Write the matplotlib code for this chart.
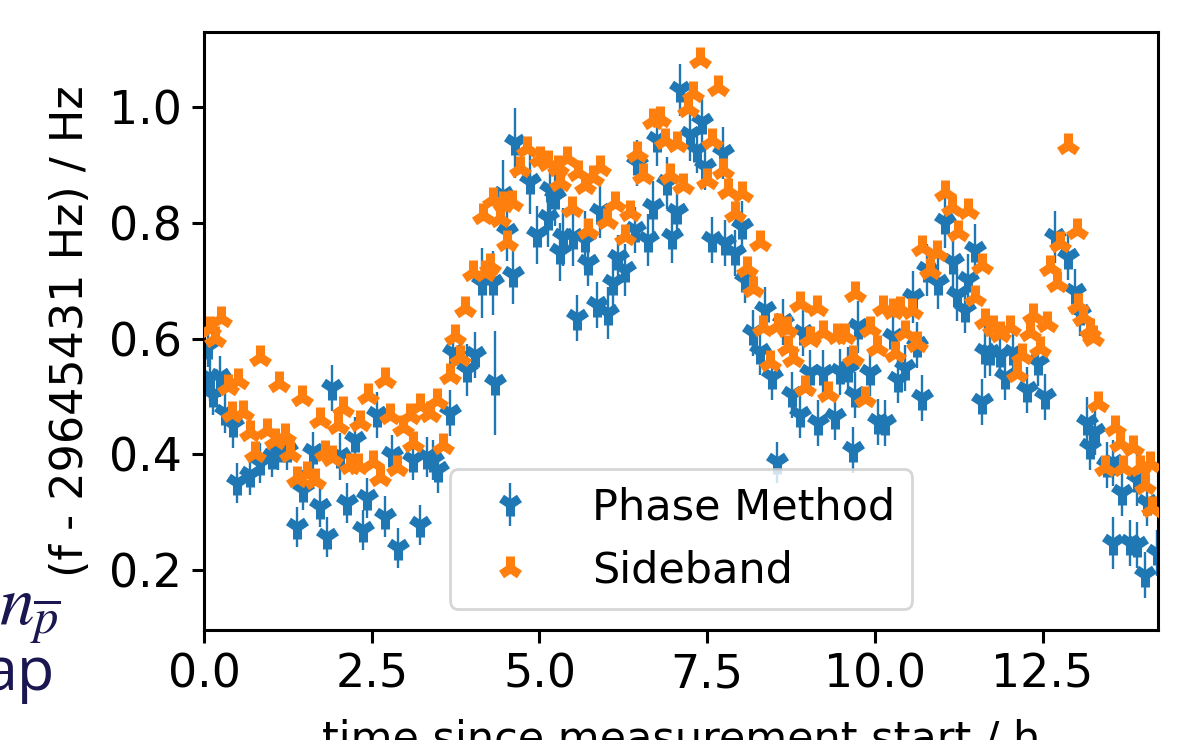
import matplotlib
matplotlib.use("Agg")
import matplotlib.pyplot as plt
import numpy as np

# ---------------- data ----------------
side_t = [0.089, 0.164, 0.253, 0.358, 0.417, 0.507, 0.581, 0.686, 0.760, 0.835,
          0.939, 1.058, 1.118, 1.207, 1.282, 1.386, 1.461, 1.535, 1.654, 1.729,
          1.803, 1.908, 1.997, 2.072, 2.176, 2.295, 2.325, 2.444, 2.519, 2.623,
          2.697, 2.772, 2.876, 2.966, 3.070, 3.115, 3.219, 3.368, 3.472, 3.562,
          3.666, 3.741, 3.815, 3.890, 4.009, 4.163, 4.193, 4.268, 4.312, 4.417,
          4.462, 4.521, 4.596, 4.715, 4.820, 5.014, 5.133, 5.283, 5.300, 5.417,
          5.492, 5.581, 5.685, 5.730, 5.805, 5.909, 6.006, 6.125, 6.274, 6.349,
          6.453, 6.543, 6.691, 6.796, 6.870, 6.945, 7.049, 7.139, 7.213, 7.288,
          7.392, 7.497, 7.571, 7.660, 7.735, 7.809, 7.913, 8.018, 8.092, 8.181,
          8.286, 8.331, 8.435, 8.554, 8.688, 8.703, 8.778, 8.882, 8.957, 9.032,
          9.136, 9.225, 9.299, 9.433, 9.553, 9.672, 9.702, 9.851, 9.925, 10.029,
          10.119, 10.268, 10.300, 10.373, 10.447, 10.551, 10.626, 10.700, 10.820, 10.924,
          11.043, 11.148, 11.237, 11.386, 11.490, 11.594, 11.639, 11.758, 11.863, 12.012,
          12.116, 12.191, 12.310, 12.355, 12.459, 12.563, 12.608, 12.712, 12.757, 12.876,
          13.010, 13.025, 13.100, 13.204, 13.249, 13.323, 13.428, 13.577, 13.651, 13.696,
          13.845, 13.949, 14.024, 14.098, 14.128]
side_f = [0.618, 0.601, 0.635, 0.518, 0.471, 0.528, 0.473, 0.438, 0.402, 0.568,
          0.442, 0.425, 0.523, 0.433, 0.402, 0.359, 0.499, 0.368, 0.356, 0.461,
          0.404, 0.395, 0.450, 0.480, 0.381, 0.381, 0.456, 0.502, 0.387, 0.361,
          0.530, 0.468, 0.377, 0.447, 0.468, 0.419, 0.485, 0.471, 0.494, 0.416,
          0.537, 0.604, 0.568, 0.653, 0.715, 0.813, 0.715, 0.727, 0.842, 0.808,
          0.834, 0.767, 0.836, 0.894, 0.930, 0.912, 0.905, 0.896, 0.870, 0.912,
          0.825, 0.888, 0.865, 0.788, 0.879, 0.896, 0.805, 0.834, 0.778, 0.818,
          0.920, 0.882, 0.978, 0.981, 0.943, 0.882, 0.938, 0.865, 0.998, 1.024,
          1.084, 0.874, 0.943, 1.035, 0.891, 0.857, 0.817, 0.852, 0.722, 0.688,
          0.767, 0.620, 0.560, 0.623, 0.618, 0.585, 0.566, 0.661, 0.516, 0.601,
          0.654, 0.611, 0.506, 0.606, 0.606, 0.568, 0.678, 0.497, 0.618, 0.585,
          0.654, 0.649, 0.575, 0.652, 0.611, 0.649, 0.592, 0.758, 0.718, 0.749,
          0.853, 0.827, 0.784, 0.822, 0.672, 0.727, 0.632, 0.620, 0.610, 0.620,
          0.540, 0.571, 0.611, 0.641, 0.584, 0.627, 0.724, 0.696, 0.765, 0.934,
          0.788, 0.658, 0.637, 0.615, 0.603, 0.488, 0.378, 0.447, 0.419, 0.377,
          0.413, 0.378, 0.347, 0.385, 0.307]

phase_t = [0.060, 0.089, 0.134, 0.238, 0.313, 0.432, 0.492, 0.686, 0.835, 1.013,
           1.103, 1.237, 1.386, 1.475, 1.625, 1.729, 1.833, 1.908, 2.027, 2.130,
           2.250, 2.370, 2.429, 2.578, 2.697, 2.802, 2.891, 3.115, 3.219, 3.323,
           3.413, 3.487, 3.666, 3.711, 3.919, 4.039, 4.143, 4.307, 4.337, 4.456,
           4.516, 4.605, 4.635, 4.858, 4.963, 5.127, 5.157, 5.231, 5.306, 5.350,
           5.499, 5.559, 5.678, 5.723, 5.857, 5.902, 6.021, 6.095, 6.170, 6.274,
           6.423, 6.453, 6.617, 6.691, 6.751, 6.900, 6.975, 7.049, 7.094, 7.243,
           7.348, 7.422, 7.467, 7.571, 7.735, 7.764, 7.913, 8.018, 8.063, 8.181,
           8.286, 8.361, 8.465, 8.539, 8.629, 8.763, 8.882, 8.927, 9.032, 9.150,
           9.225, 9.404, 9.478, 9.598, 9.672, 9.700, 9.747, 9.925, 10.045, 10.149,
           10.268, 10.343, 10.447, 10.566, 10.626, 10.700, 10.775, 10.939, 11.043, 11.162,
           11.222, 11.341, 11.386, 11.490, 11.594, 11.639, 11.714, 11.863, 11.937, 12.056,
           12.265, 12.429, 12.533, 12.683, 12.876, 12.980, 13.055, 13.159, 13.204, 13.278,
           13.457, 13.547, 13.547, 13.681, 13.800, 13.905, 13.905, 14.024, 14.053, 14.202]
phase_f = [0.586, 0.532, 0.503, 0.534, 0.471, 0.451, 0.350, 0.364, 0.385, 0.395,
           0.407, 0.407, 0.274, 0.338, 0.404, 0.309, 0.257, 0.515, 0.396, 0.316,
           0.425, 0.269, 0.324, 0.468, 0.292, 0.398, 0.238, 0.390, 0.278, 0.395,
           0.390, 0.373, 0.471, 0.575, 0.546, 0.571, 0.696, 0.696, 0.523, 0.848,
           0.784, 0.710, 0.938, 0.870, 0.779, 0.808, 0.857, 0.845, 0.750, 0.775,
           0.775, 0.635, 0.770, 0.730, 0.658, 0.818, 0.644, 0.696, 0.739, 0.718,
           0.788, 0.903, 0.770, 0.827, 0.943, 0.869, 0.775, 0.818, 1.029, 0.952,
           0.926, 0.974, 0.896, 0.770, 0.921, 0.765, 0.748, 0.792, 0.701, 0.609,
           0.577, 0.649, 0.533, 0.386, 0.628, 0.502, 0.468, 0.609, 0.540, 0.454,
           0.540, 0.464, 0.542, 0.545, 0.407, 0.502, 0.620, 0.540, 0.456, 0.454,
           0.603, 0.528, 0.549, 0.672, 0.589, 0.497, 0.718, 0.696, 0.801, 0.732,
           0.675, 0.649, 0.701, 0.753, 0.490, 0.577, 0.575, 0.571, 0.533, 0.575,
           0.511, 0.558, 0.499, 0.775, 0.741, 0.680, 0.644, 0.454, 0.413, 0.439,
           0.381, 0.385, 0.246, 0.333, 0.246, 0.355, 0.243, 0.191, 0.316, 0.229]
phase_err = [0.035, 0.040, 0.035, 0.035, 0.035, 0.040, 0.035, 0.035, 0.035, 0.035,
             0.035, 0.035, 0.035, 0.035, 0.035, 0.035, 0.035, 0.040, 0.040, 0.035,
             0.040, 0.035, 0.035, 0.040, 0.035, 0.035, 0.035, 0.035, 0.035, 0.035,
             0.035, 0.040, 0.040, 0.045, 0.045, 0.040, 0.060, 0.055, 0.090, 0.060,
             0.050, 0.050, 0.060, 0.055, 0.050, 0.050, 0.055, 0.050, 0.050, 0.050,
             0.050, 0.040, 0.050, 0.040, 0.040, 0.045, 0.045, 0.045, 0.040, 0.045,
             0.040, 0.040, 0.045, 0.045, 0.045, 0.045, 0.045, 0.045, 0.045, 0.045,
             0.040, 0.045, 0.040, 0.040, 0.045, 0.040, 0.040, 0.045, 0.040, 0.040,
             0.040, 0.040, 0.040, 0.035, 0.040, 0.040, 0.040, 0.040, 0.040, 0.040,
             0.040, 0.040, 0.040, 0.040, 0.040, 0.040, 0.045, 0.040, 0.040, 0.040,
             0.040, 0.040, 0.040, 0.045, 0.040, 0.040, 0.045, 0.045, 0.045, 0.045,
             0.045, 0.040, 0.045, 0.045, 0.040, 0.045, 0.040, 0.040, 0.040, 0.040,
             0.040, 0.040, 0.040, 0.045, 0.040, 0.040, 0.040, 0.045, 0.040, 0.040,
             0.040, 0.040, 0.045, 0.040, 0.040, 0.045, 0.040, 0.040, 0.040, 0.040]

xticks = [0.0, 2.5, 5.0, 7.5, 10.0, 12.5]
yticks = [0.2, 0.4, 0.6, 0.8, 1.0]

# ---------------- figure ----------------
plt.rcParams['font.family'] = ['DejaVu Sans']
fig = plt.figure(figsize=(12.03, 7.40), dpi=100)
ax = fig.add_axes([204 / 1203, 1 - 630 / 740, (1158 - 204) / 1203, (630 - 32) / 740])

blue = '#1f77b4'
orange = '#ff7f0e'

eb = ax.errorbar(phase_t, phase_f, yerr=phase_err, fmt='1', color=blue,
                 ms=17, mew=6.5, elinewidth=1.7, capsize=0, label='Phase Method', zorder=2)
ln, = ax.plot(side_t, side_f, '2', color=orange, ms=17, mew=6.5, ls='none',
              label='Sideband', zorder=3)

ax.set_xlim(0, 14.22)
ax.set_ylim(0.096, 1.13)
ax.set_xticks(xticks)
ax.set_yticks(yticks)
ax.set_xticklabels([f"{v:.1f}" for v in xticks])
ax.set_yticklabels([f"{v:.1f}" for v in yticks])
ax.tick_params(labelsize=33, length=9, width=2.2, pad=7)
for s in ax.spines.values():
    s.set_linewidth(2.2)

ax.set_ylabel('(f - 29645431 Hz) / Hz', fontsize=32, va='bottom')
ax.yaxis.set_label_coords((92 - 204) / 954, 0.5)
ax.set_xlabel('time since measurement start / h', fontsize=31, va='top')
ax.xaxis.set_label_coords(0.5, (630 - 719) / 598)

leg = ax.legend([eb, ln], ['Phase Method', 'Sideband'], loc='lower center',
                fontsize=31, framealpha=0.8, borderaxespad=0.49, handletextpad=0.9)
leg.get_frame().set_linewidth(2.0)

# partially visible slide text at left edge
navy = '#1a1650'
fig.text(60 / 1203, 1 - 625 / 740, r'$n_{\overline{p}}$', fontsize=50, color=navy,
         va='baseline', ha='right', math_fontfamily='stix')
fig.text(54 / 1203, 1 - 690 / 740, 'ap', fontsize=44, color=navy,
         va='baseline', ha='right', family='Open Sans')

fig.savefig('out.png', dpi=100)
